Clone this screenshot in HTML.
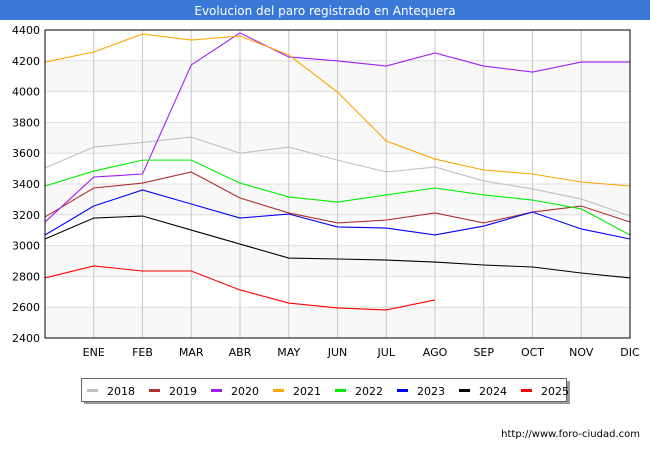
<!DOCTYPE html>
<html><head><meta charset="utf-8"><style>
body{margin:0;background:#fff;font-family:"Liberation Sans","DejaVu Sans",sans-serif}
svg text{font-family:"DejaVu Sans","Liberation Sans",sans-serif}
</style></head><body>
<svg width="650" height="450" xmlns="http://www.w3.org/2000/svg" id="chart">
<rect x="0" y="0" width="650" height="20" fill="#3a78d8"/>
<text x="325" y="15" text-anchor="middle" fill="#fff" font-size="12">Evolucion del paro registrado en Antequera</text>
<g id="bands"></g><g id="grid"></g><g id="lines"></g><g id="axes"></g>
<rect x="45" y="30" width="585" height="308" fill="none" stroke="#000" stroke-width="1"/>
<rect x="84" y="381" width="486" height="23" fill="#999"/>
<rect x="81.5" y="378.5" width="485" height="23" fill="#fff" stroke="#666"/>
<g id="legend"></g>
<text x="640" y="437" text-anchor="end" font-size="10" fill="#000">http://www.foro-ciudad.com</text>
</svg>
<script>
const months=["","ENE","FEB","MAR","ABR","MAY","JUN","JUL","AGO","SEP","OCT","NOV","DIC"];
const yTicks=[2400,2600,2800,3000,3200,3400,3600,3800,4000,4200,4400];
const years=["2018","2019","2020","2021","2022","2023","2024","2025"];
const colors=["#c0c0c0","#b03030","#a020f0","#ffa500","#00ee00","#0000ff","#000000","#ff0000"];
const s2018=[3504,3640,3670,3705,3600,3640,3555,3478,3510,3420,3368,3303,3192];
const s2019=[3186,3374,3406,3478,3309,3212,3147,3166,3212,3147,3218,3257,3153];
const s2020=[3153,3445,3465,4173,4381,4225,4199,4166,4251,4166,4127,4192,4192];
const s2021=[4192,4257,4374,4335,4361,4238,3997,3679,3562,3491,3465,3413,3387];
const s2022=[3387,3484,3555,3555,3406,3316,3283,3329,3374,3329,3296,3238,3069];
const s2023=[3069,3257,3361,3270,3179,3205,3121,3114,3069,3127,3218,3108,3043];
const s2024=[3043,3179,3192,3101,3010,2919,2913,2906,2893,2874,2861,2822,2790];
const s2025=[2790,2868,2835,2835,2712,2627,2595,2582,2647];
const series=[s2018,s2019,s2020,s2021,s2022,s2023,s2024,s2025];
const L=45,R=630,T=30,B=338,ymin=2400,ymax=4400;
const xs=i=>L+i*(R-L)/12;
const ys=v=>B-(v-ymin)/(ymax-ymin)*(B-T);
const NS="http://www.w3.org/2000/svg";
function mk(p,tag,at){const e=document.createElementNS(NS,tag);for(const k in at)e.setAttribute(k,at[k]);document.getElementById(p).appendChild(e);return e;}
for(let i=0;i<yTicks.length-1;i++){if(i%2==0){const r=mk("bands","rect",{x:L,y:ys(yTicks[i+1]),width:R-L,height:ys(yTicks[i])-ys(yTicks[i+1]),fill:"#f8f8f8"});

}}
yTicks.forEach(v=>{const l=mk("grid","line",{x1:L,x2:R,y1:ys(v),y2:ys(v),stroke:"#dddddd"});


const t=mk("axes","text",{x:L-5,y:ys(v)+4,"text-anchor":"end","font-size":"11",fill:"#000"});t.textContent=v;

});
months.forEach((m,i)=>{if(i==0)return;const l=mk("grid","line",{x1:xs(i),x2:xs(i),y1:T,y2:B,stroke:"#c8c8c8"});


const t=mk("axes","text",{x:xs(i),y:B+18,"text-anchor":"middle","font-size":"11",fill:"#000"});t.textContent=m;

});
series.forEach((s,k)=>{const p=mk("lines","polyline",{points:s.map((v,i)=>xs(i)+","+ys(v)).join(" "),fill:"none",stroke:colors[k],"stroke-width":"1.1"});


const x0=87+k*62;
const sw=mk("legend","rect",{x:x0,y:389,width:11,height:3,fill:colors[k]});


const t=mk("legend","text",{x:x0+20,y:395,"font-size":"11",fill:"#000"});t.textContent=years[k];

});
</script>
</body></html>
